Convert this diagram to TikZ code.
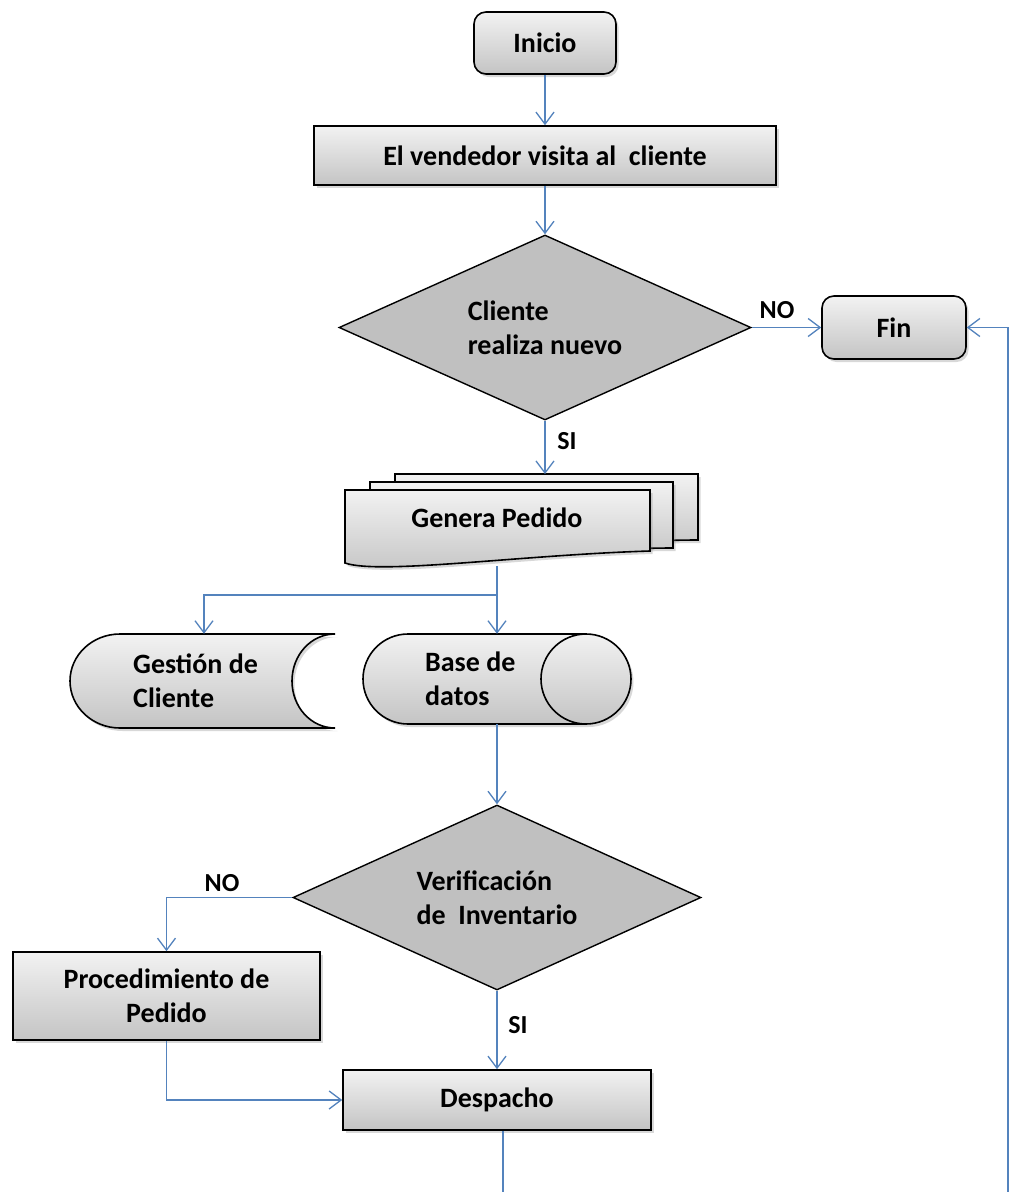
\documentclass[tikz,border=0pt]{standalone}
\usepackage{fontspec}
\setmainfont{Carlito}
\usetikzlibrary{shapes.geometric,arrows.meta,shadows,calc}
\definecolor{linkblue}{RGB}{84,131,189}
\definecolor{boxtop}{RGB}{242,242,242}
\definecolor{boxbot}{RGB}{196,196,196}
\definecolor{diafill}{RGB}{192,192,192}
\tikzset{
  shapefill/.style={draw=black, line width=1.6pt, top color=boxtop, bottom color=boxbot,
    drop shadow={shadow xshift=2.5pt,shadow yshift=-3pt,opacity=.3}},
  procbox/.style={shapefill, rectangle, inner sep=0pt, align=center,
    font=\fontsize{28}{34}\selectfont\bfseries},
  termbox/.style={procbox, rounded corners=12pt},
  decision/.style={draw=black, line width=1.4pt, fill=diafill, diamond, aspect=2.2,
    inner sep=0pt, align=left, font=\fontsize{28}{34}\selectfont\bfseries},
  ghost/.style={rectangle, inner sep=0pt},
  txt/.style={inner sep=0pt, align=left, font=\fontsize{28}{34}\selectfont\bfseries},
  lbl/.style={inner sep=0pt, font=\fontsize{26}{30}\selectfont\bfseries},
  wire/.style={draw=linkblue, line width=1.3pt},
  arr/.style={wire, -{Straight Barb[length=12pt,width=18pt]}}
}
\begin{document}
\begin{tikzpicture}[x=1pt,y=-1pt]
\useasboundingbox (0,0) rectangle (1010,1192);
\fill[white] (0,0) rectangle (1010,1192);

% terminals and processes
\node[termbox, minimum width=142pt, minimum height=62pt] (inicio) at (545,43) {Inicio};
\node[procbox, minimum width=462pt, minimum height=59pt] (visita) at (545,155.5) {El vendedor visita al\ \ cliente};
\node[decision, minimum width=412pt, minimum height=185pt] (d1) at (545,327.5) {Cliente\\realiza nuevo};
\node[termbox, minimum width=144pt, minimum height=63pt] (fin) at (894,327.5) {Fin};

% multi-document "Genera Pedido"
\path[shapefill] (395,474) -- (698,474) -- (698,540)
   .. controls (620,540) and (470,552) .. (395,552) -- cycle;
\path[shapefill] (370,482) -- (673,482) -- (673,548)
   .. controls (595,548) and (445,560) .. (370,560) -- cycle;
\path[shapefill] (345,490) -- (650,490) -- (650,551)
   .. controls (520,555) and (380,575) .. (345,563) -- cycle;
\node[txt] (gp) at (497,518) {Genera Pedido};
\coordinate (gpin) at (545,474);
\coordinate (gpout) at (497,566);
\coordinate (split) at (497,595);

% stored data "Gestion de Cliente"
\path[shapefill] (120,634) -- (335,634)
   .. controls (311,634) and (292,655) .. (292,681)
   .. controls (292,707) and (311,728) .. (335,728)
   -- (120,728)
   .. controls (92.4,728) and (70,707) .. (70,681)
   .. controls (70,655) and (92.4,634) .. (120,634) -- cycle;
\node[ghost, minimum width=265pt, minimum height=94pt] (gc) at (204,681) {};
\node[txt, anchor=west] (gct) at (133,681) {Gestión de\\Cliente};

% direct access storage "Base de datos"
\path[shapefill] (408,634) -- (586,634)
   .. controls (610.8,634) and (631,654.2) .. (631,679)
   .. controls (631,703.8) and (610.8,724) .. (586,724)
   -- (408,724)
   .. controls (383.2,724) and (363,703.8) .. (363,679)
   .. controls (363,654.2) and (383.2,634) .. (408,634) -- cycle;
\draw[black, line width=1.6pt] (586,634)
   .. controls (561.2,634) and (541,654.2) .. (541,679)
   .. controls (541,703.8) and (561.2,724) .. (586,724);
\node[ghost, minimum width=268pt, minimum height=90pt] (bd) at (497,679) {};
\node[txt, anchor=west] (bdt) at (425,679) {Base de\\datos};

% second decision and the rest
\node[decision, minimum width=408pt, minimum height=185pt] (d2) at (497,897.5) {Verificación\\de\ \ Inventario};
\node[procbox, minimum width=307pt, minimum height=88pt] (proc) at (166.5,996) {Procedimiento de\\Pedido};
\node[procbox, minimum width=308pt, minimum height=60pt] (desp) at (497,1100) {Despacho};

% labels
\node[lbl] (no1) at (777,310) {NO};
\node[lbl] (si1) at (567,441) {SI};
\node[lbl] (no2) at (222,883) {NO};
\node[lbl] (si2) at (518,1025) {SI};

% connectors
\draw[arr] (inicio.south) -- (visita.north);
\draw[arr] (visita.south) -- (d1.north);
\draw[arr] (d1.east) -- (fin.west);
\draw[arr] (d1.south) -- (gpin);
\draw[wire] (gpout) -- (split);
\draw[arr] (split) -| (gc.north);
\draw[arr] (split) -- (bd.north);
\draw[arr] (bd.south) -- (d2.north);
\draw[arr] (d2.west) -| (proc.north);
\draw[arr] (d2.south) -- (desp.north);
\draw[arr] (proc.south) |- (desp.west);
\coordinate (bot1) at (503,1192);
\draw[wire] (desp.south -| bot1) -- (bot1);
\coordinate (bot2) at (1008,1192);
\draw[arr] (bot2) |- (fin.east);
\end{tikzpicture}
\end{document}
